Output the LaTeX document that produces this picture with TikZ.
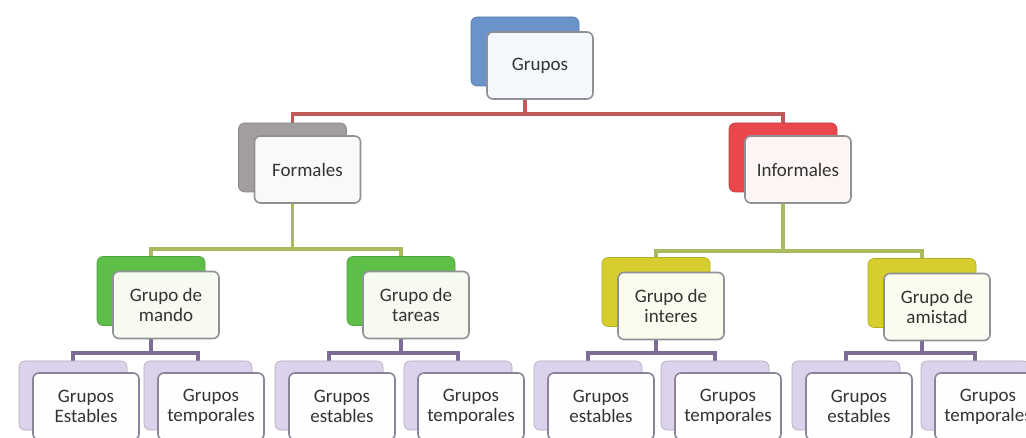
\documentclass[tikz,border=0pt]{standalone}
\usepackage{fontspec}
\setmainfont{Carlito}
\definecolor{blueB}{HTML}{6A93C9}
\definecolor{grayB}{HTML}{A39E9E}
\definecolor{redB}{HTML}{E9474C}
\definecolor{greenB}{HTML}{5DBE48}
\definecolor{yellowB}{HTML}{D5CE2E}
\definecolor{lavB}{HTML}{DDD2EB}
\definecolor{blueF}{HTML}{F4F7FB}
\definecolor{grayF}{HTML}{FBF8F8}
\definecolor{redF}{HTML}{FDF4F4}
\definecolor{greenF}{HTML}{F6FAF1}
\definecolor{yellowF}{HTML}{FBFBEF}
\definecolor{lavF}{HTML}{FFFEFF}
\definecolor{frontline}{HTML}{8E9296}
\definecolor{leafline}{HTML}{8B8398}
\definecolor{conred}{HTML}{BE5A57}
\definecolor{congreen}{HTML}{A8BC5E}
\definecolor{conpurple}{HTML}{7D6D96}
\definecolor{txt}{HTML}{333333}
\pgfdeclarelayer{bg}
\pgfdeclarelayer{conn}
\pgfsetlayers{bg,conn,main}
\begin{document}
\begin{tikzpicture}[x=1pt,y=-1pt,
  back/.style={rectangle, rounded corners=6pt, minimum width=108pt, minimum height=69pt, inner sep=0pt, fill=#1, draw=#1!85!black, line width=0.6pt},
  front/.style={rectangle, rounded corners=6pt, minimum width=106pt, minimum height=67pt, fill=#1, draw=frontline, line width=1.6pt, inner sep=0pt, align=center, text=txt, font=\fontsize{19}{20}\selectfont},
  leafback/.style={back=lavB, draw=lavB!80!black},
  leaffront/.style={front=lavF, draw=leafline},
  c0/.style={draw=conred, line width=3.5pt},
  c1/.style={draw=congreen, line width=3.5pt},
  c2/.style={draw=conpurple, line width=3.5pt}
]
\useasboundingbox (0,0) rectangle (1026,438);
\clip (0,0) rectangle (1026,438);
\begin{pgfonlayer}{bg}
\fill[white] (0,0) rectangle (1026,438);
\end{pgfonlayer}

% back boxes
\node[back=blueB] (gruposB) at (525,51.5) {};
\node[back=grayB] (formB) at (292.5,157.5) {};
\node[back=redB] (infB) at (783,157.5) {};
\node[back=greenB] (mandoB) at (151,291) {};
\node[back=greenB] (tareasB) at (401,291) {};
\node[back=yellowB] (interesB) at (656,292) {};
\node[back=yellowB] (amistadB) at (922,293) {};
\node[leafback] (l1B) at (73,395.5) {};
\node[leafback] (l2B) at (198,395.5) {};
\node[leafback] (l3B) at (329,395.5) {};
\node[leafback] (l4B) at (458,395.5) {};
\node[leafback] (l5B) at (588,395.5) {};
\node[leafback] (l6B) at (715,395.5) {};
\node[leafback] (l7B) at (846,395.5) {};
\node[leafback] (l8B) at (975,395.5) {};

% front boxes
\node[front=blueF] (gruposF) at ([shift={(15,14)}]gruposB.center) {Grupos};
\node[front=grayF] (formF) at ([shift={(15,12)}]formB.center) {Formales};
\node[front=redF] (infF) at ([shift={(15,12)}]infB.center) {Informales};
\node[front=greenF] (mandoF) at ([shift={(15,14)}]mandoB.center) {Grupo de\\mando};
\node[front=greenF] (tareasF) at ([shift={(15,14)}]tareasB.center) {Grupo de\\tareas};
\node[front=yellowF] (interesF) at ([shift={(15,14)}]interesB.center) {Grupo de\\interes};
\node[front=yellowF] (amistadF) at ([shift={(15,14)}]amistadB.center) {Grupo de\\amistad};
\node[leaffront] (l1F) at ([shift={(13,11)}]l1B.center) {Grupos\\Estables};
\node[leaffront] (l2F) at ([shift={(13,11)}]l2B.center) {Grupos\\temporales};
\node[leaffront] (l3F) at ([shift={(13,11)}]l3B.center) {Grupos\\estables};
\node[leaffront] (l4F) at ([shift={(13,11)}]l4B.center) {Grupos\\temporales};
\node[leaffront] (l5F) at ([shift={(13,11)}]l5B.center) {Grupos\\estables};
\node[leaffront] (l6F) at ([shift={(13,11)}]l6B.center) {Grupos\\temporales};
\node[leaffront] (l7F) at ([shift={(13,11)}]l7B.center) {Grupos\\estables};
\node[leaffront] (l8F) at ([shift={(13,11)}]l8B.center) {Grupos\\temporales};

% connectors
\coordinate (j0) at (525,114);
\coordinate (j1) at (292.5,249);
\coordinate (j2) at (783,251);
\coordinate (j3) at (151,353);
\coordinate (j4) at (401,353);
\coordinate (j5) at (656,353);
\coordinate (j6) at (922,353);
\begin{pgfonlayer}{conn}
\draw[c0] (gruposB.center |- gruposF.south) -- (j0);
\draw[c0] (j0) -| (formB.north);
\draw[c0] (j0) -| (infB.north);
\draw[c1] (formB.center |- formF.south) -- (j1);
\draw[c1] (j1) -| (mandoB.north);
\draw[c1] (j1) -| (tareasB.north);
\draw[c1] (infB.center |- infF.south) -- (j2);
\draw[c1] (j2) -| (interesB.north);
\draw[c1] (j2) -| (amistadB.north);
\draw[c2] (mandoB.center |- mandoF.south) -- (j3);
\draw[c2] (j3) -| (l1B.north);
\draw[c2] (j3) -| (l2B.north);
\draw[c2] (tareasB.center |- tareasF.south) -- (j4);
\draw[c2] (j4) -| (l3B.north);
\draw[c2] (j4) -| (l4B.north);
\draw[c2] (interesB.center |- interesF.south) -- (j5);
\draw[c2] (j5) -| (l5B.north);
\draw[c2] (j5) -| (l6B.north);
\draw[c2] (amistadB.center |- amistadF.south) -- (j6);
\draw[c2] (j6) -| (l7B.north);
\draw[c2] (j6) -| (l8B.north);
\end{pgfonlayer}
\end{tikzpicture}
\end{document}
